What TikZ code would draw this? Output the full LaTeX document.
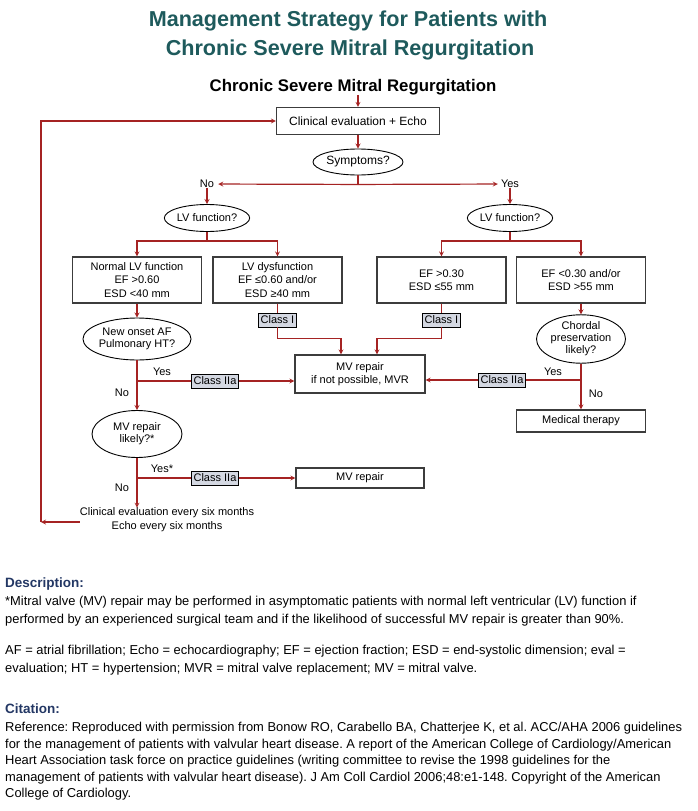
\documentclass[tikz,border=0pt]{standalone}
\usepackage{fontspec}
\setmainfont{Liberation Sans}
\frenchspacing
\usetikzlibrary{shapes,arrows,positioning}
\definecolor{titleteal}{RGB}{30,90,92}
\definecolor{headnavy}{RGB}{35,55,100}
\definecolor{redline}{RGB}{165,35,35}
\definecolor{clsfill}{RGB}{212,216,226}
\definecolor{boxgray}{RGB}{60,60,60}

\begin{document}
\begin{tikzpicture}[x=1pt,y=-1pt,inner sep=0pt,>=stealth,
  box/.style={draw=boxgray,line width=1.2pt,minimum width=129pt,align=center,font=\fontsize{11}{13.5}\selectfont},
  oval/.style={draw,ellipse,line width=0.9pt,align=center,font=\fontsize{11}{12}\selectfont},
  cls/.style={draw,fill=clsfill,line width=0.9pt,minimum height=14pt,inner xsep=2pt,font=\fontsize{11}{11}\selectfont},
  arr/.style={->,draw=redline,line width=1.2pt},
  ln/.style={draw=redline,line width=1.2pt},
  lbl/.style={font=\fontsize{11}{11}\selectfont},
  ttl/.style={anchor=base,text=titleteal,font=\fontsize{21.6}{26}\bfseries},
  dhead/.style={anchor=base west,text=headnavy,font=\fontsize{13.5}{13.5}\bfseries},
  dtext/.style={anchor=base west,font=\fontsize{12.9}{13}\selectfont}]
\useasboundingbox (0,0) rectangle (697,811);

% titles
\node[ttl] (t1) at (348,26) {Management Strategy for Patients with};
\node[ttl] (t2) at (350,55) {Chronic Severe Mitral Regurgitation};
\node[anchor=base,font=\fontsize{16.8}{20}\bfseries] (sub) at (353,91) {Chronic Severe Mitral Regurgitation};

% chart
\node[box,minimum width=163pt,minimum height=27pt,font=\fontsize{12}{12}\selectfont] (clin) at (358,121) {Clinical evaluation + Echo};
\node[oval,minimum width=90pt,minimum height=26pt,font=\fontsize{12}{12}\selectfont] (sym) at (358,162) {Symptoms?};
\node[lbl] (no1) at (207,184) {No};
\node[lbl] (yes1) at (510,184) {Yes};
\node[oval,minimum width=85pt,minimum height=27pt] (lvl) at (207,218) {LV function?};
\node[oval,minimum width=85pt,minimum height=27pt] (lvr) at (510,218) {LV function?};
\node[box,minimum height=46pt] (nrm) at (137,280) {Normal LV function\\EF >0.60\\ESD <40 mm};
\node[box,minimum height=46pt] (dys) at (277.5,280) {LV dysfunction\\EF ≤0.60 and/or\\ESD ≥40 mm};
\node[box,minimum height=46pt] (efa) at (441.5,280) {EF >0.30\\ESD ≤55 mm};
\node[box,minimum height=46pt] (efb) at (581,280) {EF <0.30 and/or\\ESD >55 mm};
\node[cls] (ci1) at (277.5,320) {Class I};
\node[cls] (ci2) at (441.5,320) {Class I};
\node[oval,minimum width=90pt,minimum height=42pt] (afq) at (137,339) {New onset AF\\Pulmonary HT?};
\node[oval,minimum width=89pt,minimum height=43pt] (chq) at (581,339) {Chordal\\preservation\\likely?};
\node[box,minimum width=130pt,minimum height=38pt] (mvr) at (360,374) {MV repair\\if not possible, MVR};
\node[cls] (cia) at (215,381) {Class IIa};
\node[cls] (cib) at (502,380) {Class IIa};
\node[box,minimum height=22pt] (med) at (581,421) {Medical therapy};
\node[oval,minimum width=90pt,minimum height=47pt] (rpq) at (137,434) {MV repair\\likely?*};
\node[cls] (cic) at (215,478) {Class IIa};
\node[box,minimum width=128pt,minimum height=20pt] (mv2) at (360,478) {MV repair};
\node[align=center,font=\fontsize{11}{14}\selectfont] (fu) at (167,520) {Clinical evaluation every six months\\Echo every six months};
\coordinate (fb) at (41,522);

\node[lbl] at (162,372) {Yes};
\node[lbl] at (122,393) {No};
\node[lbl] at (162,469) {Yes*};
\node[lbl] at (122,488) {No};
\node[lbl] at (553,372) {Yes};
\node[lbl] at (596,394) {No};

\draw[arr] (clin.north |- sub.south) -- (clin.north);
\draw[arr] (clin) -- (sym);
\draw[ln] (sym.south) -- ++(0,9) coordinate (s1);
\draw[arr,shorten >=4pt] (s1) -- (no1);
\draw[arr,shorten >=3pt] (s1) -- (yes1);
\draw[arr] (no1) -- (lvl);
\draw[arr] (yes1) -- (lvr);
\draw[arr] (lvl.south) -- ++(0,9) -| (nrm.north);
\draw[arr] (lvl.south) -- ++(0,9) -| (dys.north);
\draw[arr] (lvr.south) -- ++(0,9) -| (efa.north);
\draw[arr] (lvr.south) -- ++(0,9) -| (efb.north);
\draw[arr] (nrm) -- (afq);
\draw[ln] (dys) -- (ci1);
\draw[ln] (efa) -- (ci2);
\draw[arr] (ci1.south) -- ++(0,11) -| ([xshift=-19pt]mvr.north);
\draw[arr] (ci2.south) -- ++(0,11) -| ([xshift=17pt]mvr.north);
\draw[arr] (efb) -- (chq);
\draw[arr] (afq) -- (rpq);
\draw[ln] (afq.south |- cia) -- (cia.west);
\draw[arr] (cia.east) -- (cia.east -| mvr.west);
\draw[arr] (chq) -- (med);
\draw[ln] (chq.south |- cib) -- (cib.east);
\draw[arr] (cib.west) -- (cib.west -| mvr.east);
\draw[arr] (rpq.south) -- (rpq.south |- fu.north);
\draw[ln] (rpq.south |- cic) -- (cic.west);
\draw[arr] (cic.east) -- (mv2.west);
\draw[arr] (fu.west |- fb) -- (fb);
\draw[arr] (fb) |- (clin.west);

% notes
\node[dhead] (dh) at (5,587) {Description:};
\node[dtext] (d1) at (5,605) {*Mitral valve (MV) repair may be performed in asymptomatic patients with normal left ventricular (LV) function if};
\node[dtext] (d2) at (5,623) {performed by an experienced surgical team and if the likelihood of successful MV repair is greater than 90\%.};
\node[dtext] (d3) at (5,654) {AF = atrial fibrillation; Echo = echocardiography; EF = ejection fraction; ESD = end-systolic dimension; eval =};
\node[dtext] (d4) at (5,672) {evaluation; HT = hypertension; MVR = mitral valve replacement; MV = mitral valve.};
\node[dhead] (ch) at (5,713) {Citation:};
\node[dtext] (c1) at (5,731) {Reference: Reproduced with permission from Bonow RO, Carabello BA, Chatterjee K, et al. ACC/AHA 2006 guidelines};
\node[dtext] (c2) at (5,748) {for the management of patients with valvular heart disease. A report of the American College of Cardiology/American};
\node[dtext] (c3) at (5,764) {Heart Association task force on practice guidelines (writing committee to revise the 1998 guidelines for the};
\node[dtext] (c4) at (5,781) {management of patients with valvular heart disease). J Am Coll Cardiol 2006;48:e1-148. Copyright of the American};
\node[dtext] (c5) at (5,797) {College of Cardiology.};
\end{tikzpicture}
\end{document}
